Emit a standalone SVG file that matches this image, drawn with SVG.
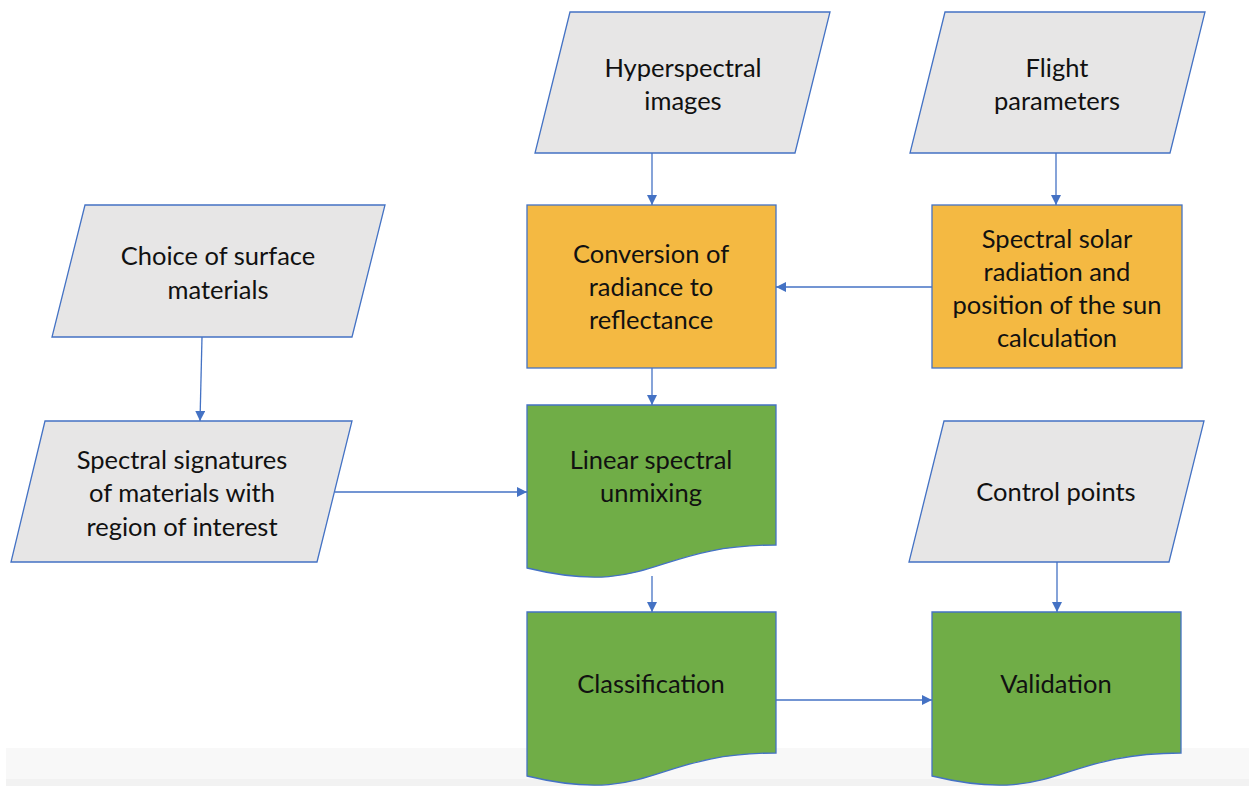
<svg xmlns="http://www.w3.org/2000/svg" width="1249" height="786" viewBox="0 0 1249 786">
  <style>
    .data { fill: #e7e6e6; stroke: #4472c4; stroke-width: 1.3; }
    .proc { fill: #f4b942; stroke: #4472c4; stroke-width: 1.3; }
    .doc  { fill: #70ad47; stroke: #4472c4; stroke-width: 1.3; }
    .lbl  { font-family: Lato, "Liberation Sans", sans-serif; font-size: 25.5px; fill: #111; text-anchor: middle; }
    .edge { stroke: #4472c4; stroke-width: 1.3; fill: none; marker-end: url(#arrow); }
  </style>
  <defs>
    <marker id="arrow" markerUnits="userSpaceOnUse" markerWidth="12" markerHeight="12" refX="10" refY="5" orient="auto">
      <path d="M0,0 L10,5 L0,10 Z" fill="#4472c4"/>
    </marker>
  </defs>

  <rect width="1249" height="786" fill="#ffffff"/>
  <!-- footer band -->
  <rect x="6" y="748" width="1243" height="38" fill="#f8f8f8"/>
  <rect x="6" y="779" width="1243" height="7" fill="#f2f2f2"/>

  <g id="connectors">
    <path class="edge" d="M652,153 L652,205"/>
    <path class="edge" d="M1056,153 L1056,205"/>
    <path class="edge" d="M932,287 L776,287"/>
    <path class="edge" d="M202,337 L200,421"/>
    <path class="edge" d="M335,492 L527,492"/>
    <path class="edge" d="M652,368 L652,405"/>
    <path class="edge" d="M652,576 L652,612"/>
    <path class="edge" d="M1057,562 L1057,612"/>
    <path class="edge" d="M776,700 L932,700"/>
  </g>

  <g id="hyperspectral-images">
    <polygon class="data" points="570,12 830,12 795,153 535,153"/>
    <text class="lbl" x="683" y="77">Hyperspectral</text>
    <text class="lbl" x="683" y="110">images</text>
  </g>

  <g id="flight-parameters">
    <polygon class="data" points="945,12 1205,12 1170,153 910,153"/>
    <text class="lbl" x="1057" y="77">Flight</text>
    <text class="lbl" x="1057" y="110">parameters</text>
  </g>

  <g id="conversion">
    <rect class="proc" x="527" y="205" width="249" height="163"/>
    <text class="lbl" x="651" y="263">Conversion of</text>
    <text class="lbl" x="651" y="296">radiance to</text>
    <text class="lbl" x="651" y="329">reflectance</text>
  </g>

  <g id="solar-calculation">
    <rect class="proc" x="932" y="205" width="250" height="163"/>
    <text class="lbl" x="1057" y="248">Spectral solar</text>
    <text class="lbl" x="1057" y="281">radiation and</text>
    <text class="lbl" x="1057" y="314">position of the sun</text>
    <text class="lbl" x="1057" y="347">calculation</text>
  </g>

  <g id="surface-materials">
    <polygon class="data" points="85,205 385,205 352,337 52,337"/>
    <text class="lbl" x="218" y="265">Choice of surface</text>
    <text class="lbl" x="218" y="299">materials</text>
  </g>

  <g id="spectral-signatures">
    <polygon class="data" points="45,421 352,421 317,562 11,562"/>
    <text class="lbl" x="182" y="469">Spectral signatures</text>
    <text class="lbl" x="182" y="502">of materials with</text>
    <text class="lbl" x="182" y="536">region of interest</text>
  </g>

  <g id="unmixing">
    <path class="doc" d="M527,405 H776 V545 C651.5,545 651.5,598 527,568 Z"/>
    <text class="lbl" x="651" y="469">Linear spectral</text>
    <text class="lbl" x="651" y="502">unmixing</text>
  </g>

  <g id="control-points">
    <polygon class="data" points="944,421 1204,421 1169,562 909,562"/>
    <text class="lbl" x="1056" y="501">Control points</text>
  </g>

  <g id="classification">
    <path class="doc" d="M527,612 H776 V753 C651.5,753 651.5,806 527,776 Z"/>
    <text class="lbl" x="651" y="693">Classification</text>
  </g>

  <g id="validation">
    <path class="doc" d="M932,612 H1181 V753 C1056.5,753 1056.5,806 932,776 Z"/>
    <text class="lbl" x="1056" y="693">Validation</text>
  </g>
</svg>
